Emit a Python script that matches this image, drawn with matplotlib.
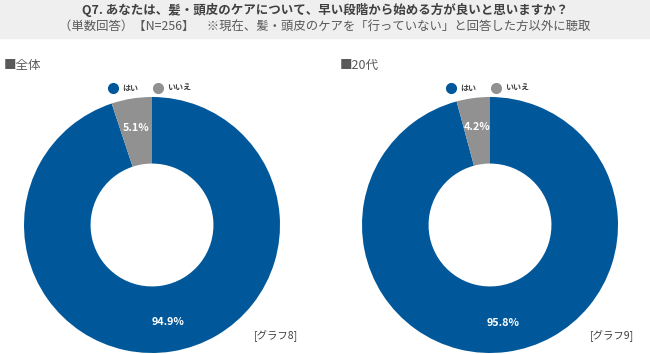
import matplotlib.pyplot as plt

plt.rcParams['font.family'] = ['Noto Sans CJK JP', 'DejaVu Sans']

categories = ['はい', 'いいえ']
total_vals = [94.9, 5.1]
age20_vals = [95.8, 4.2]
panel_titles = ['■全体', '■20代']
graph_tags = ['[グラフ8]', '[グラフ9]']
colors = ['#00589b', '#919191']

W, H = 650, 354
fig = plt.figure(figsize=(W / 100, H / 100), dpi=100)

# header band
fig.patches.append(plt.Rectangle((0, 1 - 38 / H), 1, 38 / H, transform=fig.transFigure,
                                 color='#efefef', zorder=0))
fig.text(325 / W, 1 - 10 / H, 'Q7. あなたは、髪・頭皮のケアについて、早い段階から始める方が良いと思いますか？',
         ha='center', va='center', fontsize=9, fontweight='bold', color='#404040')
fig.text(325 / W, 1 - 27 / H, '（単数回答）【N=256】　※現在、髪・頭皮のケアを「行っていない」と回答した方以外に聴取',
         ha='center', va='center', fontsize=8.9, color='#595959')


def donut(cx, vals, title, tx, tag, tagx):
    r = 128
    cy = 225
    ax = fig.add_axes([(cx - r) / W, (H - cy - r) / H, 2 * r / W, 2 * r / H])
    wedges, texts, autotexts = ax.pie(vals, colors=colors, startangle=90, counterclock=False,
                                      radius=1, wedgeprops=dict(width=0.52, linewidth=0),
                                      autopct='%.1f%%', pctdistance=0.77,
                                      textprops=dict(color='white', fontsize=7.8, fontweight='bold'))
    ax.set_xlim(-1, 1)
    ax.set_ylim(-1, 1)
    ax.set_aspect('equal')
    fig.text(tx / W, 1 - 65 / H, title, ha='left', va='center', fontsize=9, color='#595959')
    # legend
    for i, c in enumerate(categories):
        lx = cx - 39 + i * 45
        fig.lines.append(plt.Line2D([lx / W], [1 - 88 / H], marker='o', markersize=7,
                                    color=colors[i], transform=fig.transFigure))
        fig.text((lx + 9) / W, 1 - 88 / H, c, ha='left', va='center', fontsize=5.8,
                 fontweight='bold', color='#404040')
    fig.text(tagx / W, 1 - 336 / H, tag, ha='center', va='center', fontsize=7.5, color='#404040')


donut(152, total_vals, panel_titles[0], 4, graph_tags[0], 276)
donut(490, age20_vals, panel_titles[1], 340, graph_tags[1], 612)

fig.savefig('out.png', dpi=100)
